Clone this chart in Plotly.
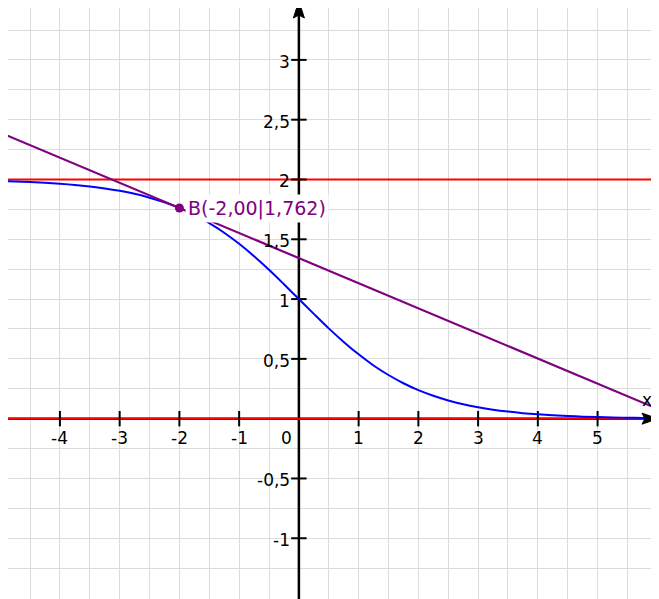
import plotly.graph_objects as go

# ---- data ----
# visible window (page has an 8px body margin on top/left, so the figure starts at 8px)
x_range = [-4.869, 6.028]
y_range = [-1.508, 3.434]
axis_end_x = 6.028
axis_end_y = 3.501

curve_x = [-5.25, -5.0, -4.75, -4.5, -4.25, -4.0, -3.75, -3.5, -3.25, -3.0, -2.75, -2.5, -2.25,
           -2.0, -1.75, -1.5, -1.25, -1.0, -0.75, -0.5, -0.25, 0.0, 0.25, 0.5, 0.75, 1.0,
           1.25, 1.5, 1.75, 2.0, 2.25, 2.5, 2.75, 3.0, 3.25, 3.5, 3.75, 4.0, 4.25, 4.5,
           4.75, 5.0, 5.25, 5.5, 5.75, 6.0, 6.25]
curve_y = [1.990, 1.987, 1.983, 1.978, 1.972, 1.964, 1.954, 1.941, 1.925, 1.905, 1.880, 1.848, 1.809,
           1.762, 1.704, 1.635, 1.555, 1.462, 1.358, 1.245, 1.124, 1.000, 0.876, 0.755, 0.642, 0.538,
           0.445, 0.365, 0.296, 0.238, 0.191, 0.152, 0.120, 0.095, 0.075, 0.059, 0.046, 0.036, 0.028, 0.022,
           0.017, 0.013, 0.010, 0.008, 0.006, 0.005, 0.004]

tangent_x = [-5.25, 6.25]
tangent_y = [2.445, 0.030]

asymptote_y = [2.0, 0.0]

point_x = [-2.0]
point_y = [1.762]
point_label = "B(-2,00|1,762)"

x_ticks = [-4, -3, -2, -1, 1, 2, 3, 4, 5]
x_tick_labels = ["-4", "-3", "-2", "-1", "1", "2", "3", "4", "5"]
y_ticks = [-1, -0.5, 0.5, 1, 1.5, 2, 2.5, 3]
y_tick_labels = ["-1", "-0,5", "0,5", "1", "1,5", "2", "2,5", "3"]

FONT = "DejaVu Sans"
BLUE = "#0000ff"
RED = "#ff0000"
PURPLE = "#800080"

fig = go.Figure()

# y axis line
fig.add_trace(go.Scatter(x=[0, 0], y=[y_range[0] - 0.1, axis_end_y - 0.05], mode="lines",
                         line=dict(color="black", width=2.5), hoverinfo="skip"))
# x axis line
fig.add_trace(go.Scatter(x=[x_range[0] - 0.1, axis_end_x - 0.1], y=[0, 0], mode="lines",
                         line=dict(color="black", width=2.5), hoverinfo="skip"))

# asymptotes
for ay in asymptote_y:
    fig.add_trace(go.Scatter(x=[x_range[0] - 1, x_range[1] + 1], y=[ay, ay], mode="lines",
                             line=dict(color=RED, width=2), hoverinfo="skip"))

# ticks
fig.add_trace(go.Scatter(x=x_ticks, y=[0] * len(x_ticks), mode="markers",
                         marker=dict(symbol="line-ns", size=11, line=dict(color="black", width=2)),
                         hoverinfo="skip"))
fig.add_trace(go.Scatter(x=[0] * len(y_ticks), y=y_ticks, mode="markers",
                         marker=dict(symbol="line-ew", size=11, line=dict(color="black", width=2)),
                         hoverinfo="skip"))

# curve
fig.add_trace(go.Scatter(x=curve_x, y=curve_y, mode="lines", line=dict(color=BLUE, width=2, shape="spline"),
                         hoverinfo="skip"))
# tangent
fig.add_trace(go.Scatter(x=tangent_x, y=tangent_y, mode="lines", line=dict(color=PURPLE, width=2.2),
                         hoverinfo="skip"))
# point
fig.add_trace(go.Scatter(x=point_x, y=point_y, mode="markers", marker=dict(color=PURPLE, size=9),
                         hoverinfo="skip"))

annotations = []
for xv, t in zip(x_ticks, x_tick_labels):
    annotations.append(dict(x=xv, y=0, xref="x", yref="y", text=t, showarrow=False,
                            xanchor="center", yanchor="middle", yshift=-19,
                            font=dict(family=FONT, size=17, color="black")))
annotations.append(dict(x=0, y=0, xref="x", yref="y", text="0", showarrow=False,
                        xanchor="center", yanchor="middle", yshift=-19, xshift=-12,
                        font=dict(family=FONT, size=17, color="black")))
for yv, t in zip(y_ticks, y_tick_labels):
    annotations.append(dict(x=0, y=yv, xref="x", yref="y", text=t, showarrow=False,
                            xanchor="right", yanchor="middle", xshift=-7, yshift=-2,
                            font=dict(family=FONT, size=17, color="black")))
annotations.append(dict(x=0, y=axis_end_y, xref="x", yref="y", text="y", showarrow=False,
                        xanchor="center", yanchor="middle", xshift=17, yshift=-24,
                        font=dict(family=FONT, size=17, color="black")))
annotations.append(dict(x=axis_end_x, y=0, xref="x", yref="y", text="x", showarrow=False,
                        xanchor="center", yanchor="middle", xshift=-12, yshift=19,
                        font=dict(family=FONT, size=17, color="black")))
annotations.append(dict(x=point_x[0], y=point_y[0], xref="x", yref="y", text=point_label,
                        showarrow=False, xanchor="left", yanchor="middle", xshift=6, yshift=-1,
                        bgcolor="white", borderpad=2,
                        font=dict(family=FONT, size=19, color=PURPLE)))

shapes = [
    # arrowhead on y axis (pixel path relative to the axis top)
    dict(type="path", xref="x", yref="y", xsizemode="pixel", ysizemode="pixel",
         xanchor=0, yanchor=axis_end_y,
         path="M 0 -1 L -5.5 -18 L 0 -15 L 5.5 -18 Z",
         fillcolor="black", line=dict(color="black", width=1), layer="above"),
    # arrowhead on x axis
    dict(type="path", xref="x", yref="y", xsizemode="pixel", ysizemode="pixel",
         xanchor=axis_end_x, yanchor=0,
         path="M -1 0 L -17 5.5 L -14 0 L -17 -5.5 Z",
         fillcolor="black", line=dict(color="black", width=1), layer="above"),
]

fig.update_layout(
    width=651, height=591, autosize=False,
    margin=dict(l=0, r=0, t=0, b=0),
    paper_bgcolor="white", plot_bgcolor="white",
    showlegend=False,
    xaxis=dict(range=x_range, dtick=0.5, tick0=0, showgrid=True, gridcolor="#dcdcdc", gridwidth=1,
               zeroline=False, showticklabels=False, ticks="", showline=False, fixedrange=True),
    yaxis=dict(range=y_range, dtick=0.25, tick0=0, showgrid=True, gridcolor="#dcdcdc", gridwidth=1,
               zeroline=False, showticklabels=False, ticks="", showline=False, fixedrange=True),
    annotations=annotations,
    shapes=shapes,
)

fig.write_html("out.html")
